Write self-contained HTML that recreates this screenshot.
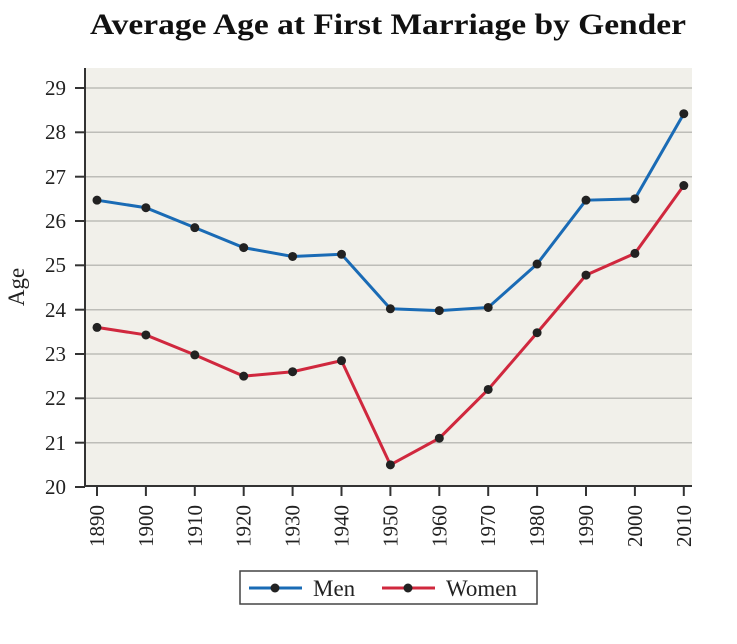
<!DOCTYPE html><html><head><style>body{margin:0;background:#fff}</style></head><body>
<svg width="737" height="639" xmlns="http://www.w3.org/2000/svg" font-family="Liberation Serif, serif">
<text x="90" y="34" font-size="30" font-weight="bold" textLength="596" lengthAdjust="spacingAndGlyphs" fill="#111">Average Age at First Marriage by Gender</text>
<rect x="86" y="68" width="606" height="418" fill="#f1f0ea"/>
<g stroke="#bdbdb8" stroke-width="1.5">
<line x1="86" x2="692" y1="88" y2="88"/><line x1="86" x2="692" y1="132.3" y2="132.3"/><line x1="86" x2="692" y1="176.7" y2="176.7"/><line x1="86" x2="692" y1="221" y2="221"/><line x1="86" x2="692" y1="265.3" y2="265.3"/><line x1="86" x2="692" y1="309.7" y2="309.7"/><line x1="86" x2="692" y1="354" y2="354"/><line x1="86" x2="692" y1="398.3" y2="398.3"/><line x1="86" x2="692" y1="442.7" y2="442.7"/>
</g>
<g stroke="#333" stroke-width="2">
<line x1="85" y1="68" x2="85" y2="487"/><line x1="84" y1="486" x2="692" y2="486"/>
<line x1="75" x2="85" y1="88" y2="88"/><line x1="75" x2="85" y1="132.3" y2="132.3"/><line x1="75" x2="85" y1="176.7" y2="176.7"/><line x1="75" x2="85" y1="221" y2="221"/><line x1="75" x2="85" y1="265.3" y2="265.3"/><line x1="75" x2="85" y1="309.7" y2="309.7"/><line x1="75" x2="85" y1="354" y2="354"/><line x1="75" x2="85" y1="398.3" y2="398.3"/><line x1="75" x2="85" y1="442.7" y2="442.7"/><line x1="75" x2="85" y1="487" y2="487"/>
</g>
<g font-size="21" fill="#222" text-anchor="end">
<text x="66" y="95">29</text><text x="66" y="139">28</text><text x="66" y="184">27</text><text x="66" y="228">26</text><text x="66" y="272">25</text><text x="66" y="317">24</text><text x="66" y="361">23</text><text x="66" y="405">22</text><text x="66" y="450">21</text><text x="66" y="494">20</text>
</g>
<text transform="translate(24,287) rotate(-90)" font-size="23" text-anchor="middle" fill="#222">Age</text>
<g id="xt" stroke="#333" stroke-width="2"></g>
<g id="xl" font-size="21" fill="#222"></g>
<polyline id="men" fill="none" stroke="#1a6bb5" stroke-width="3"/>
<polyline id="wom" fill="none" stroke="#d0283e" stroke-width="3"/>
<g id="dots" fill="#222"></g>
<rect x="240" y="571" width="297" height="33" fill="#fff" stroke="#444" stroke-width="1.5"/>
<line x1="249" x2="302" y1="588" y2="588" stroke="#1a6bb5" stroke-width="3"/><circle cx="275" cy="588" r="4.5" fill="#222"/>
<text x="313" y="596" font-size="23" fill="#222">Men</text>
<line x1="382" x2="435" y1="588" y2="588" stroke="#d0283e" stroke-width="3"/><circle cx="408" cy="588" r="4.5" fill="#222"/>
<text x="446" y="596" font-size="23" fill="#222">Women</text>
<script>
var m=[26.47,26.3,25.85,25.4,25.2,25.25,24.02,23.98,24.05,25.03,26.47,26.5,28.42];
var w=[23.6,23.43,22.98,22.5,22.6,22.85,20.5,21.1,22.2,23.48,24.78,25.27,26.8];
function X(i){return 97+i*48.9}function Y(v){return 487-44.33*(v-20)}
var ns="http://www.w3.org/2000/svg";
function el(t,a,p){var e=document.createElementNS(ns,t);for(var k in a)e.setAttribute(k,a[k]);document.getElementById(p).appendChild(e);return e}
document.getElementById('men').setAttribute('points',m.map(function(v,i){return X(i)+','+Y(v)}).join(' '));
document.getElementById('wom').setAttribute('points',w.map(function(v,i){return X(i)+','+Y(v)}).join(' '));
for(var i=0;i<13;i++){el('circle',{cx:X(i),cy:Y(m[i]),r:4.5},'dots');el('circle',{cx:X(i),cy:Y(w[i]),r:4.5},'dots');
el('line',{x1:X(i),x2:X(i),y1:486,y2:496},'xt');
var t=el('text',{transform:'translate('+(X(i)+7)+',547) rotate(-90)'},'xl');t.textContent=1890+10*i;}
</script>
</svg></body></html>
